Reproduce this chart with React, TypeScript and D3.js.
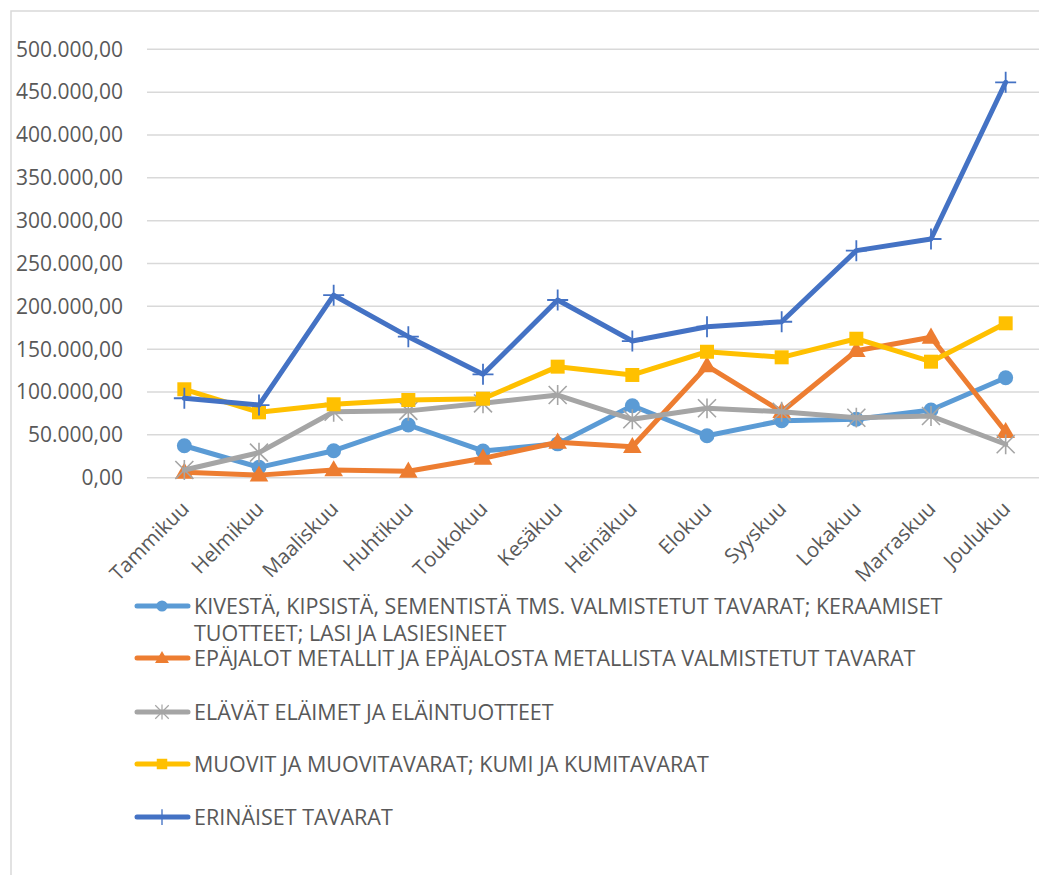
import React from "react";
import * as d3 from "d3";

const months = ["Tammikuu","Helmikuu","Maaliskuu","Huhtikuu","Toukokuu","Kesäkuu","Heinäkuu","Elokuu","Syyskuu","Lokakuu","Marraskuu","Joulukuu"];
const yTicks = [0,50000,100000,150000,200000,250000,300000,350000,400000,450000,500000];

const kivesta = [37300,12100,31500,61500,31200,39500,84000,49000,66500,68200,79000,116700];
const epajalot = [6300,3000,9000,7500,22600,41300,36200,130400,77000,148200,163900,53700];
const elavat = [9000,29200,77000,78000,86800,96500,68200,81000,77000,70000,72000,39000];
const muovit = [103200,76300,85700,90700,92200,129600,119900,147000,140500,162200,135400,180200];
const erinaiset = [92700,84800,213000,164600,120700,207400,159500,176200,182000,265000,278600,461500];

const seriesNames = [
  ["KIVESTÄ, KIPSISTÄ, SEMENTISTÄ TMS. VALMISTETUT TAVARAT; KERAAMISET", "TUOTTEET; LASI JA LASIESINEET"],
  ["EPÄJALOT METALLIT JA EPÄJALOSTA METALLISTA VALMISTETUT TAVARAT"],
  ["ELÄVÄT ELÄIMET JA ELÄINTUOTTEET"],
  ["MUOVIT JA MUOVITAVARAT; KUMI JA KUMITAVARAT"],
  ["ERINÄISET TAVARAT"],
];
const seriesValues = [kivesta, epajalot, elavat, muovit, erinaiset];
const seriesColors = ["#5B9BD5", "#ED7D31", "#A5A5A5", "#FFC000", "#4472C4"];
const seriesMarkers = ["circle", "triangle", "star", "square", "plus"];

const FONT = "'Open Sans', 'Noto Sans', sans-serif";
const TEXT = "#595959";

const fiLocale = d3.formatLocale({ decimal: ",", thousands: ".", grouping: [3], currency: ["", " €"] });
const fmt = fiLocale.format(",.2f");

function Marker({ type, color, x, y, scale = 1 }: { type: string; color: string; x: number; y: number; scale?: number }) {
  const t = `translate(${x},${y}) scale(${scale})`;
  if (type === "circle") {
    return <path transform={t} d={d3.symbol(d3.symbolCircle, 175)() as string} fill={color} />;
  }
  if (type === "square") {
    return <path transform={t} d={d3.symbol(d3.symbolSquare, 196)() as string} fill={color} />;
  }
  if (type === "triangle") {
    return <path transform={`translate(${x},${y + 1}) scale(${scale})`} d={d3.symbol(d3.symbolTriangle, 150)() as string} fill={color} />;
  }
  if (type === "star") {
    const r = 9;
    const d = `M${-r},${-r}L${r},${r}M${-r},${r}L${r},${-r}M0,${-r * 1.1}L0,${r * 1.1}`;
    return <path transform={t} d={d} stroke={color} strokeWidth={1.6} fill="none" />;
  }
  const r = 10.5;
  const d = `M${-r},0L${r},0M0,${-r}L0,${r}`;
  return <path transform={t} d={d} stroke={color} strokeWidth={1.8} fill="none" />;
}

export default function App() {
  const x = d3.scaleBand<string>().domain(months).range([147, 1043]);
  const xc = (m: string) => (x(m) as number) + x.bandwidth() / 2;
  const y = d3.scaleLinear().domain([0, 500000]).range([477.7, 49.3]);
  const line = d3.line<number>().x((_, i) => xc(months[i])).y((v) => y(v));

  const legendY = [606, 658, 712, 764, 817];

  return (
    <svg width={1039} height={875} style={{ position: "absolute", left: 0, top: 0, background: "#fff" }} fontFamily={FONT}>
      <rect x={0} y={0} width={1039} height={875} fill="#fff" />
      <rect x={11} y={11} width={1200} height={1000} fill="none" stroke="#d9d9d9" strokeWidth={1.5} />
      {yTicks.map((t) => (
        <g key={t}>
          <line x1={147} x2={1043} y1={y(t)} y2={y(t)} stroke="#d9d9d9" strokeWidth={1.5} />
          <text x={123} y={y(t)} dy="0.35em" textAnchor="end" fontSize={21} fill={TEXT}>{fmt(t)}</text>
        </g>
      ))}
      {months.map((m) => (
        <text key={m} transform={`translate(${xc(m) + 6},510) rotate(-45)`} textAnchor="end" fontSize={20.5} fill={TEXT}>{m}</text>
      ))}
      {seriesValues.map((vals, si) => (
        <g key={si}>
          <path d={line(vals) as string} fill="none" stroke={seriesColors[si]} strokeWidth={5} strokeLinejoin="round" strokeLinecap="round" />
          {vals.map((v, i) => (
            <Marker key={i} type={seriesMarkers[si]} color={seriesColors[si]} x={xc(months[i])} y={y(v)} />
          ))}
        </g>
      ))}
      {seriesNames.map((lines, si) => (
        <g key={si}>
          <line x1={137} x2={188} y1={legendY[si]} y2={legendY[si]} stroke={seriesColors[si]} strokeWidth={5} strokeLinecap="round" />
          <Marker type={seriesMarkers[si]} color={seriesColors[si]} x={162} y={legendY[si]} scale={0.75} />
          {lines.map((l, li) => (
            <text key={li} x={194} y={legendY[si] + li * 27} dy="0.35em" fontSize={21.5} fill={TEXT}>{l}</text>
          ))}
        </g>
      ))}
    </svg>
  );
}
